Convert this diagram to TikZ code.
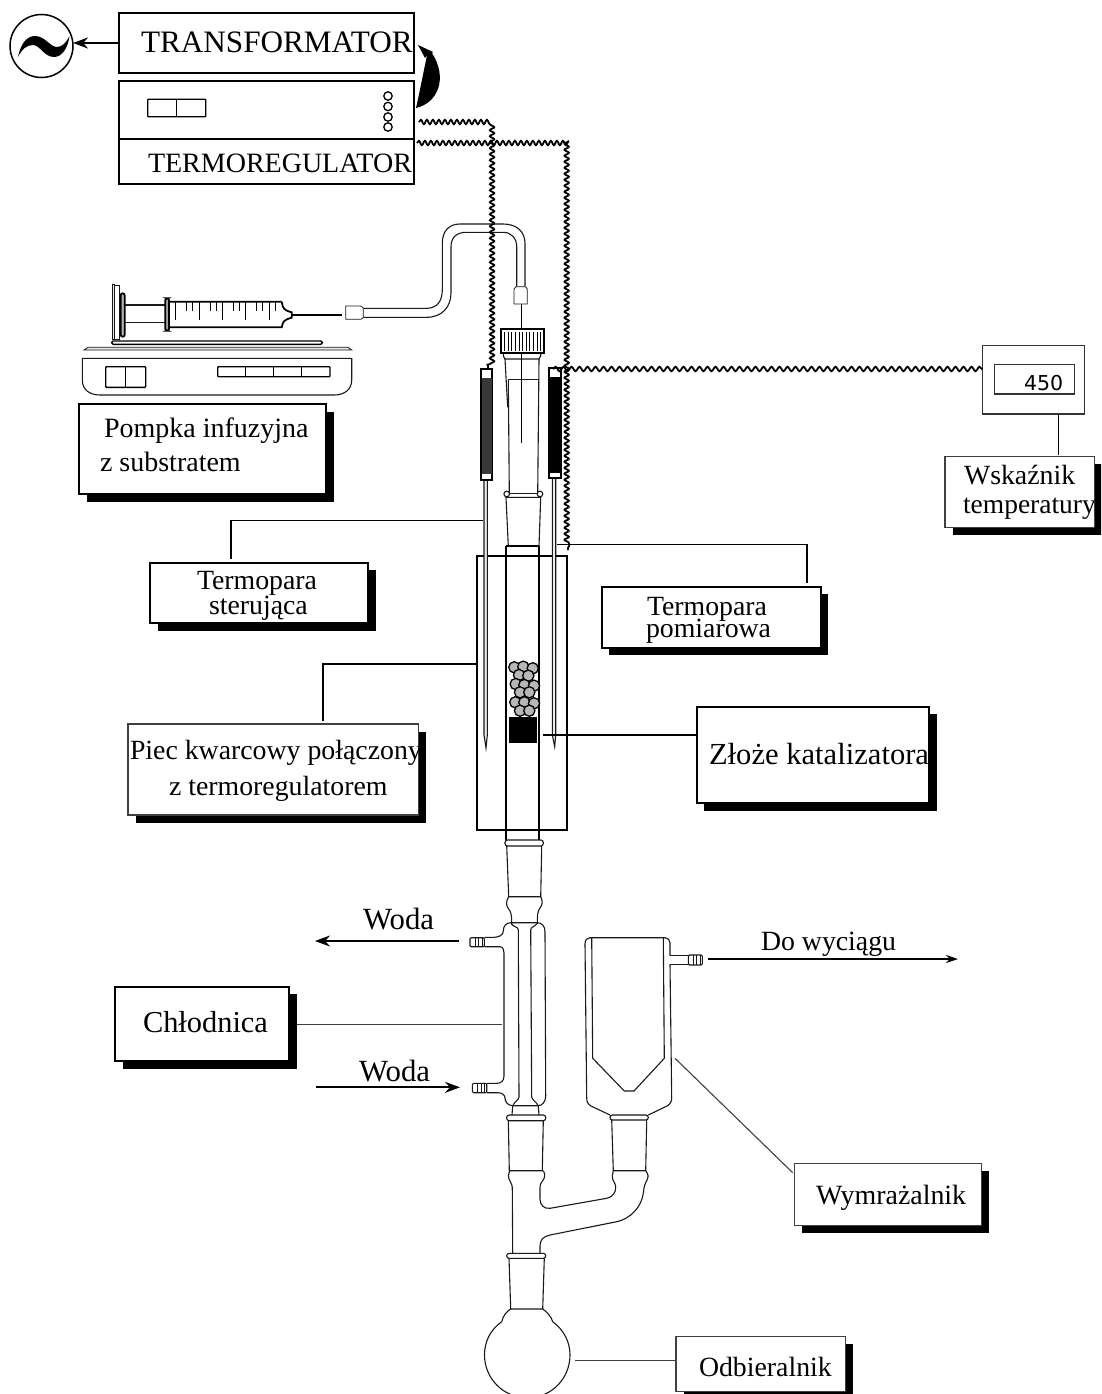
\documentclass[tikz,border=0pt]{standalone}
\usepackage{fontspec}
\setmainfont{Liberation Serif}
\newfontfamily\digitfont{DejaVu Sans}
\usetikzlibrary{decorations.pathmorphing,arrows.meta,calc}
\tikzset{
 px/.style={x=1pt,y=-1pt},
 boxblack/.style={draw=black,fill=white,line width=1.9pt,inner sep=0pt,outer sep=0pt},
 boxgrey/.style={draw=black!75,fill=white,line width=1.2pt,inner sep=0pt,outer sep=0pt},
 shadowfill/.style={fill=black},
 glass/.style={draw=black!90,line width=1.1pt},
 glassfill/.style={draw=black!90,line width=1.1pt,fill=white},
 leader/.style={draw=black,line width=1.5pt},
 leaderthin/.style={draw=black!75,line width=1.1pt},
 wave/.style={draw=black,line width=1.8pt,decorate,decoration={snake,segment length=6pt,amplitude=2.2pt}},
 wavewide/.style={draw=black,line width=1.8pt,decorate,decoration={snake,segment length=8pt,amplitude=2.2pt}},
 flow/.style={draw=black,line width=1.7pt,-{Stealth[length=15pt,width=11pt]}},
 plain/.style={inner sep=0pt,outer sep=0pt,anchor=base west},
 hw/.style={draw=black,line width=1.4pt,fill=white},
 hwthick/.style={draw=black,line width=1.8pt,fill=white},
 bead/.style={draw=black,line width=1.3pt,fill=black!28},
}
\newcommand{\lblbox}[6]{% name, style, x1,y1,x2,y2 with shadow
 \fill[shadowfill] ({#3+7.5},{#4+7.5}) rectangle ({#5+7.5},{#6+7.5});
 \node[#2,anchor=north west,minimum width={(#5-#3)*1pt},minimum height={(#6-#4)*1pt}] (#1) at (#3,#4) {};
}
\newcommand{\lbl}[5]{% name,x,baseline,size,text
 \node[plain] (#1) at (#2,#3) {\fontsize{#4}{#4}\selectfont #5};
}
\newcommand{\hosebarb}[4]{%
 \draw[glassfill,rounded corners=1.2pt] (#1,#2) rectangle (#3,#4);
 \foreach \f in {0.35,0.6,0.85}{ \draw[glass,line width=0.7pt] ({#1+\f*(#3-#1)},#2) -- ({#1+\f*(#3-#1)},#4); }
}
\newcommand{\collar}[4]{%
 \draw[glassfill,rounded corners=2.4pt] (#1,#2) rectangle (#3,#4);
}
\begin{document}
\begin{tikzpicture}[px]
\useasboundingbox (0,0) rectangle (1101,1394);
\fill[white] (0,0) rectangle (1101,1394);
\clip (0,0) rectangle (1101,1394);

%--- mains symbol, transformer, regulator
\node[draw=black,line width=1.5pt,circle,minimum size=63pt,inner sep=0pt,outer sep=0pt] (mains) at (41.5,46) {};
\fill[black] (18,57) .. controls (21,42) and (28,36) .. (35,36) .. controls (45,36) and (50,47) .. (57,47) .. controls (62,47) and (66,43) .. (69.5,36) .. controls (68,48) and (62,57) .. (54,57) .. controls (44,57) and (40,45) .. (33,45) .. controls (27,45) and (22,49) .. (18,57) -- cycle;
\node[boxblack,anchor=north west,minimum width=295pt,minimum height=60pt] (trafo) at (119,13) {};
\node[boxblack,anchor=north west,minimum width=295pt,minimum height=58pt] (regtop) at (119,81) {};
\node[boxblack,anchor=north west,minimum width=295pt,minimum height=45pt] (regbot) at (119,139) {};
\draw[flow] (trafo.west) -- (mains.east |- trafo.west);
\lbl{ttrafo}{141}{52.7}{31.2}{TRANSFORMATOR}
\lbl{treg}{148}{172.7}{28}{TERMOREGULATOR}
\draw[black,line width=1.3pt,rounded corners=0.6pt] (147.7,99.3) rectangle (205.8,116.7);
\draw[black,line width=1.3pt] (176.5,99.3) -- (176.5,116.7);
\foreach \y in {96,106.5,117,127}{ \draw[black,line width=1.3pt] (388,\y) circle (4.2); }
% curved black arrow
\fill[black] (416,108) .. controls (438,103) and (448,78) .. (432,53) -- (433,52) -- (418,45) -- (425,58) -- (427,55) .. controls (424,70) and (420,90) .. (416,108) -- cycle;

%--- syringe and pump
\draw[glassfill,line width=0.8pt,fill=black!10] (112.3,284.3) rectangle (114.8,339);
\draw[glassfill,fill=white,line width=1pt] (114.8,285.5) rectangle (119.3,339);
\draw[hwthick,fill=black!30,rounded corners=2pt] (120.7,293.3) rectangle (124.7,336.7);
\draw[glass] (124.7,305) -- (166,305) (124.7,322.3) -- (166,322.3);
\draw[hwthick,fill=white] (281.7,301.7) -- (169,301.7) -- (169,327.3) -- (281.7,327.3) .. controls (283,322) and (283,320) .. (291.7,317.7) -- (291.7,312.3) .. controls (283,310) and (283,308) .. (281.7,301.7);
\draw[hwthick,fill=black!35,rounded corners=2pt] (165.3,298.3) rectangle (169,330.7);
\foreach \x in {175,199,222.3,245.3,269}{ \draw[black,line width=0.8pt] (\x,301.7) -- (\x,320); }
\foreach \x in {186.7,192.7,210,216.7,233.3,239.3,256.7,262.7,275}{ \draw[black,line width=0.8pt] (\x,301.7) -- (\x,311); }
\draw[black,line width=1.2pt] (291.7,315) -- (342,315);
\draw[hw,rounded corners=1.5pt] (111.7,341) rectangle (322.3,344.3);
\draw[glassfill,line width=0.8pt,fill=black!10] (88,347.3) -- (348,347.3) -- (351.7,350) -- (84,350) -- cycle;
\draw[glassfill,rounded corners=0pt] (82.3,358.3) -- (82.3,380) .. controls (82.3,390) and (90,395) .. (100,395) -- (334,395) .. controls (344,395) and (351.7,390) .. (351.7,380) -- (351.7,358.3) -- cycle;
\draw[hw,rounded corners=0.8pt] (105.7,366.7) rectangle (145.7,387.3);
\draw[black,line width=1.4pt] (125.7,366.7) -- (125.7,387.3);
\draw[hw,rounded corners=0.8pt] (217.7,366.7) rectangle (330,376.7);
\foreach \x in {245.7,273.7,301.7}{ \draw[black,line width=1.4pt] (\x,366.7) -- (\x,376.7); }

%--- tube from syringe to reactor
\draw[glassfill,line width=0.8pt] (345.7,306) -- (361,306) -- (363.3,308) -- (363.3,317.5) -- (361,319.3) -- (345.7,319.3) -- cycle;
\draw[glass] (363.3,317.3) -- (426.7,317.3) .. controls (442,317.3) and (451,307) .. (451,293) -- (451,246.7) .. controls (451,237) and (457,232.3) .. (466.7,232.3) -- (503.3,232.3) .. controls (511,232.3) and (516.7,238) .. (516.7,246.7) -- (516.7,286.7);
\draw[glass] (363.3,308.3) -- (426.7,308.3) .. controls (437,308.3) and (442.3,301) .. (442.3,290) -- (442.3,243.3) .. controls (442.3,231) and (449,224) .. (460,224) -- (503.3,224) .. controls (517,224) and (525,232) .. (525,243.3) -- (525,286.7);
\draw[glassfill,line width=0.8pt] (516,286.7) -- (525.5,286.7) -- (527.3,289) -- (527.3,304) -- (514,304) -- (514,289) -- cycle;

%--- reactor head
\draw[glassfill] (503.3,353) -- (540.7,353) -- (540.7,356) -- (539,359) -- (505,359) -- (503.3,356) -- cycle;
\draw[glass] (505,359) -- (507.7,407.3);
\draw[glass] (508.3,379.3) -- (509.3,493);
\draw[glass] (508.3,379.3) -- (538.7,379.3);
\draw[glass] (539,359) -- (537.7,493);
\draw[black,line width=1.2pt] (521.7,304) -- (521.7,443);
\draw[hwthick,fill=white] (501,329) rectangle (544,352.7);
\foreach \x in {504.5,508.1,511.7,515.3,518.9,522.5,526.1,529.7,533.3,536.9,540.5}{ \draw[black,line width=0.7pt] (\x,331.5) -- (\x,350.5); }
\draw[black,line width=1.2pt] (521.7,353) -- (521.7,443);
\draw[glass] (508,493.3) -- (538,493.3);
\draw[glassfill] (506.7,494) circle (2.8) (540,494) circle (2.8);
\draw[glass] (506,497.3) -- (540.7,497.3) -- (539,546) -- (508.3,546) -- cycle;

%--- furnace and inner tube
\node[draw=black,line width=1.8pt,anchor=north west,minimum width=90pt,minimum height=274pt,inner sep=0pt,outer sep=0pt] (furnace) at (477.3,556) {};
\draw[black,line width=1.8pt] (506,546) -- (506,840) (539.3,546) -- (539.3,840);
\draw[black,line width=1.3pt] (506,546) -- (539.3,546);
\foreach \x/\y in {514.3/667.3,523.3/666.7,532.7/668.3,519/675,528.3/675.7,515.7/684,524.3/685,534/685.7,520/692.3,529.3/692.3,515.3/702.3,524.3/702.3,534/703.3,520/710.7,529.3/710.7}{
 \draw[bead] (\x,\y) circle (5.6);
}
\fill[black] (508.7,716.7) rectangle (537,742.7);

%--- thermocouples
\draw[glass,fill=black!8] (484,480) -- (484,735) -- (486,748) -- (487.3,735) -- (487.3,480);
\draw[hwthick] (480.7,369.3) rectangle (492.3,480);
\fill[black!78] (481.5,378) rectangle (491.5,474);
\draw[glass,fill=black!8] (552.3,478) -- (552.3,735) -- (554.7,746.7) -- (555.7,735) -- (555.7,478);
\draw[hwthick] (549.3,367.7) rectangle (561,478.3);
\fill[black] (550.1,376.7) rectangle (560.2,472.7);

%--- lower joint and condenser
\collar{505}{840}{543.3}{846}
\draw[glass] (506.7,846) -- (508.7,896.7) -- (540.7,896.7) -- (541.7,846);
\draw[glass] (508.7,896.7) .. controls (506,901) and (506,905) .. (508,908) .. controls (511,912) and (511.7,914) .. (511.7,924);
\draw[glass] (540.7,896.7) .. controls (543,901) and (542.5,905) .. (540,908) .. controls (537.5,912) and (537.3,914) .. (537.3,924);
\draw[glass] (484.3,937.3) -- (494,937.3) .. controls (499,937.3) and (503.3,935) .. (503.3,931) .. controls (503.3,926) and (506,922.7) .. (511,922.7) -- (537,922.7) .. controls (542,922.7) and (545,926) .. (545,932) -- (545.7,1096) .. controls (545.7,1102) and (542,1105.7) .. (538,1105.7) -- (513,1105.7) .. controls (508,1105.7) and (505,1102) .. (505,1098) .. controls (505,1095) and (502,1092.7) .. (498,1092.7) -- (486.7,1092.7);
\draw[glass] (484.3,946.7) -- (500,946.7) .. controls (503,946.7) and (504,950) .. (504,953) -- (504,1076) .. controls (504,1081) and (501,1083.3) .. (497,1083.3) -- (486.7,1083.3);
\draw[glass] (511,923.5) .. controls (513,927) and (518.3,926.5) .. (518.3,930) -- (519,1097) .. controls (519,1100) and (513.5,1102) .. (513,1105.7);
\draw[glass] (537,923.5) .. controls (535,927) and (530.7,926.5) .. (530.7,930) -- (531.7,1097) .. controls (531.7,1100) and (537,1102) .. (538,1105.7);
\hosebarb{470}{937.7}{484.3}{946.7}
\hosebarb{472.3}{1083.3}{486.7}{1092.7}
\draw[glass] (512.7,1105.7) -- (512,1115) (538.3,1105.7) -- (539,1115);
\collar{506.7}{1115}{545.7}{1120.7}
\draw[glass] (508.3,1120.7) -- (509.3,1170.7) -- (542.3,1170.7) -- (543.3,1120.7);

%--- Y piece, flask
\draw[glass] (510,1170.7) .. controls (508,1174) and (508,1178) .. (510,1181) .. controls (512,1184) and (512.3,1186) .. (512.3,1190) -- (512.7,1253.3);
\draw[glass] (543.3,1170.7) .. controls (545.5,1174) and (545,1178) .. (542.5,1181) .. controls (540,1184) and (540,1186) .. (540,1190) -- (540,1199) .. controls (540,1205) and (544,1209) .. (550,1208.3) -- (606.7,1198.3) .. controls (613,1197) and (616,1192) .. (615.7,1187) .. controls (615.5,1182) and (612,1181) .. (612.3,1176) -- (613.3,1170.7);
\draw[glass] (645.7,1170.7) .. controls (648,1174) and (649,1176) .. (647,1180) .. controls (645,1184) and (644,1186) .. (643.5,1192) .. controls (642,1207) and (630,1219) .. (616.7,1221.7) -- (550,1235) .. controls (543,1236.5) and (540,1240) .. (540,1246) -- (540,1253.3);
\collar{506.7}{1253.3}{545.7}{1258.3}
\draw[glass] (509,1258.3) -- (510.7,1309) -- (542.7,1309) -- (544.3,1258.3);
\draw[glass] (510.7,1309) .. controls (506,1312) and (503,1316) .. (501.7,1321.7);
\draw[glass] (542.7,1309) .. controls (547,1312) and (551,1316) .. (552.7,1321.7);
\draw[glass] (501.7,1321.7) .. controls (490,1330) and (484.5,1342) .. (484.5,1355) .. controls (484.5,1378) and (503,1397.8) .. (527.3,1397.8) .. controls (552,1397.8) and (570,1378) .. (570,1355) .. controls (570,1342) and (564,1330) .. (552.7,1321.7);

%--- cold trap
\draw[glass] (590,937.7) -- (665,937.7) .. controls (668,937.7) and (670,940) .. (670,943) -- (670,955.7);
\draw[glass] (670,964.3) -- (671.7,1098) .. controls (671.7,1102) and (670,1104) .. (667,1106) -- (648.3,1115);
\draw[glass] (590,937.7) .. controls (587,937.7) and (585,940) .. (585,944) -- (586.7,1098) .. controls (586.7,1102) and (588,1104) .. (591,1106) -- (610,1115);
\draw[glass] (591.7,937.7) -- (592.7,1058.3) -- (624.3,1091) -- (634,1091) -- (664.3,1058.3) -- (663.3,937.7);
\draw[glass] (670,955.7) -- (688.3,955.7) (670,964.3) -- (688.3,964.3);
\hosebarb{688.3}{955}{702.3}{965}
\collar{610}{1115}{648.3}{1120}
\draw[glass] (611.7,1120) -- (613.3,1170.7) -- (645.7,1170.7) -- (646.7,1120);

%--- thermocouple wires
\coordinate (w1a) at (419,122);
\coordinate (w1b) at (488,122);
\coordinate (w1c) at (488,368);
\coordinate (w2a) at (417,143);
\coordinate (w2b) at (568,143);
\coordinate (w2c) at (568,550);
\coordinate (w3a) at (553,369);
\draw[wave] (w1a) -- (w1b) -- (w1c);
\draw[wave] (w2a) -- (w2b) -- (w2c);

%--- indicator
\node[draw=black!80,line width=1.2pt,anchor=north west,minimum width=101.6pt,minimum height=68.3pt,inner sep=0pt,outer sep=0pt] (indic) at (982.7,345.7) {};
\node[draw=black!80,line width=1.1pt,anchor=north west,minimum width=80pt,minimum height=29.7pt,inner sep=0pt,outer sep=0pt] (indisp) at (994.3,364.3) {};
\node[plain] (t450) at (1024,390) {\digitfont\fontsize{20.5}{20.5}\selectfont 450};
\draw[wavewide] (w3a) -- (indic.west |- w3a);

%--- label boxes
\lblbox{bpomp}{boxblack}{79.3}{404}{326}{494}
\lbl{tpa}{104}{437.7}{28}{Pompka infuzyjna}
\lbl{tpb}{100}{471.7}{28}{z substratem}
\lblbox{bster}{boxblack}{150}{562.7}{368.3}{623.3}
\lbl{tsa}{197}{589}{27.8}{Termopara}
\lbl{tsb}{209}{614}{27.8}{sterująca}
\lblbox{bpiec}{boxgrey}{128}{724}{418.3}{815}
\lbl{tka}{130}{759}{27.8}{Piec kwarcowy połączony}
\lbl{tkb}{169}{795}{27.8}{z termoregulatorem}
\lblbox{bpom}{boxblack}{601.7}{586.7}{820.7}{647.7}
\lbl{tma}{647}{615}{27.8}{Termopara}
\lbl{tmb}{646}{637.7}{27.8}{pomiarowa}
\lblbox{bzloz}{boxblack}{696.7}{706.7}{929.3}{803.3}
\lbl{tz}{709}{764}{30.6}{Złoże katalizatora}
\lblbox{bwsk}{boxgrey}{945}{456.7}{1094.3}{527.3}
\lbl{twa}{964}{484}{27.8}{Wskaźnik}
\lbl{twb}{963}{513.3}{27.5}{temperatury}
\lblbox{bchl}{boxblack}{115}{986.7}{289.3}{1061}
\lbl{tc}{143}{1032.7}{30.4}{Chłodnica}
\lblbox{bwym}{boxgrey}{794.3}{1163.3}{981.7}{1225.7}
\lbl{tw}{816}{1204.3}{27.9}{Wymrażalnik}
\lblbox{bodb}{boxgrey}{676}{1336.7}{845.3}{1391.7}
\lbl{to}{699}{1376}{27.8}{Odbieralnik}

%--- leader lines
\coordinate (ls1) at (482.7,520.3);
\coordinate (ls2) at (231,558.5);
\draw[leader] (ls1) -| (ls2);
\coordinate (lm1) at (556.7,544.3);
\coordinate (lm2) at (807,583);
\draw[leader] (lm1) -| (lm2);
\coordinate (lp2) at (323,720.7);
\draw[leader] (furnace.west |- 0,664) -| (lp2);
\coordinate (lz1) at (543,735);
\draw[leader] (lz1) -- (bzloz.west |- lz1);
\coordinate (li2) at (1058.7,455);
\draw[leader] (li2 |- indic.south) -- (li2);
\coordinate (lc1) at (297,1024.3);
\coordinate (lc2) at (502,1024.3);
\draw[leaderthin] (lc1) -- (lc2);
\coordinate (lw1) at (675,1058.3);
\coordinate (lw2) at (792.7,1172.7);
\draw[leaderthin] (lw1) -- (lw2);
\coordinate (lo1) at (575,1360.7);
\draw[leaderthin] (lo1) -- (bodb.west |- lo1);

%--- flow arrows
\coordinate (fa1) at (459,941);
\coordinate (fa2) at (315,941);
\draw[flow] (fa1) -- (fa2);
\coordinate (fb1) at (316,1087.3);
\coordinate (fb2) at (460,1087.3);
\draw[flow] (fb1) -- (fb2);
\coordinate (fc1) at (708,959);
\coordinate (fc2) at (958,959);
\draw[flow,-{Stealth[length=12pt,width=8pt]}] (fc1) -- (fc2);
\lbl{twoda}{363}{929}{30.8}{Woda}
\lbl{twodb}{359}{1081}{30.8}{Woda}
\lbl{tdo}{761}{950}{27.8}{Do wyciągu}
\end{tikzpicture}
\end{document}
